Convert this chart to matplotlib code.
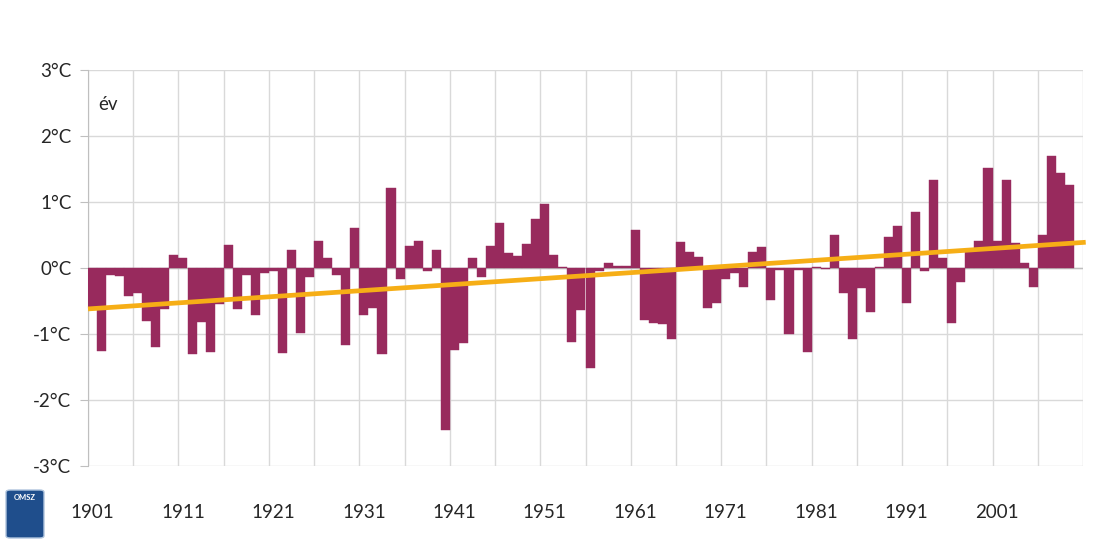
import matplotlib
matplotlib.use('Agg')
import matplotlib.pyplot as plt
from matplotlib.patches import FancyBboxPatch
import numpy as np

plt.rcParams['font.family'] = ['Lato', 'DejaVu Sans']

# évi középhőmérséklet eltérése (°C), 1901-2009
years = list(range(1901, 2010))
anomaly = [
    -0.62, -1.25, -0.10, -0.12, -0.42, -0.38, -0.80, -1.20, -0.62, 0.20,   # 1901-1910
    0.15, -1.30, -0.82, -1.28, -0.55, 0.35, -0.62, -0.10, -0.71, -0.08,    # 1911-1920
    -0.05, -1.29, 0.27, -0.98, -0.13, 0.41, 0.15, -0.10, -1.17, 0.60,      # 1921-1930
    -0.71, -0.60, -1.30, 1.21, -0.16, 0.33, 0.41, -0.05, 0.27, -2.45,      # 1931-1940
    -1.24, -1.14, 0.15, -0.13, 0.33, 0.68, 0.22, 0.18, 0.36, 0.74,         # 1941-1950
    0.97, 0.20, 0.02, -1.12, -0.64, -1.52, -0.05, 0.08, 0.03, 0.03,        # 1951-1960
    0.58, -0.79, -0.83, -0.85, -1.08, 0.40, 0.25, 0.17, -0.61, -0.53,      # 1961-1970
    -0.16, -0.07, -0.29, 0.25, 0.32, -0.48, -0.03, -1.00, -0.03, -1.28,    # 1971-1980
    0.02, -0.02, 0.50, -0.38, -1.08, -0.31, -0.66, 0.02, 0.47, 0.64,       # 1981-1990
    -0.53, 0.85, -0.05, 1.33, 0.15, -0.83, -0.21, 0.27, 0.41, 1.52,        # 1991-2000
    0.41, 1.33, 0.38, 0.08, -0.29, 0.50, 1.70, 1.44, 1.26,                 # 2001-2009
]
n_categories = 110  # 1901-2010 a tengelyen
trend = [-0.62, 0.39]  # lineáris trend a két végén
y_ticks = [-3, -2, -1, 0, 1, 2, 3]
x_label_years = list(range(1901, 2002, 10))

bar_color = '#982A5D'
trend_color = '#F6AE16'
grid_color = '#D9D9D9'
text_color = '#262626'

fig = plt.figure(figsize=(10.96, 5.41), dpi=100)
ax = fig.add_axes([88 / 1096, 1 - 466 / 541, (1083 - 88) / 1096, (466 - 70) / 541])

x = np.arange(len(years))
ax.bar(x, anomaly, width=1.0, color=bar_color, edgecolor=bar_color, linewidth=0.3, zorder=3)
ax.plot([-0.5, n_categories - 0.2], trend, color=trend_color, lw=3.4, zorder=4,
        solid_capstyle='butt', clip_on=False)

ax.set_xlim(-0.5, n_categories - 0.5)
ax.set_ylim(-3, 3)

# rács
for yt in y_ticks:
    ax.axhline(yt, color=grid_color, lw=1, zorder=1)
for b in np.arange(-0.5, n_categories, 5):
    ax.axvline(b, color=grid_color, lw=1, zorder=1)
ax.axhline(0, color='#BFBFBF', lw=1, zorder=2)

ax.set_yticks(y_ticks)
ax.set_yticklabels([f'{v}°C' for v in y_ticks], fontsize=13.5, color=text_color)
ax.tick_params(axis='y', length=6, color='#BFBFBF', pad=6)

ax.set_xticks([y - 1901 for y in x_label_years])
ax.set_xticklabels([str(y) for y in x_label_years], fontsize=13.5, color=text_color)
ax.tick_params(axis='x', length=0, pad=27)

for s in ['top', 'right', 'bottom']:
    ax.spines[s].set_visible(False)
ax.spines['left'].set_color('#BFBFBF')

ax.text(0.6, 2.47, 'év', fontsize=13.5, color=text_color, va='center', ha='left')

# OMSZ logó (egyszerűsítve)
logo = FancyBboxPatch((6 / 1096, 1 - 538 / 541), 38 / 1096, 48 / 541,
                      boxstyle='round,pad=0,rounding_size=0.004',
                      transform=fig.transFigure, facecolor='#1F4E8C',
                      edgecolor='#AFC4DD', lw=1)
fig.patches.append(logo)
fig.text(25 / 1096, 1 - 497 / 541, 'OMSZ', fontsize=5.5, color='white',
         ha='center', va='center', weight='bold')

fig.savefig('out.png', dpi=100, facecolor='white')
